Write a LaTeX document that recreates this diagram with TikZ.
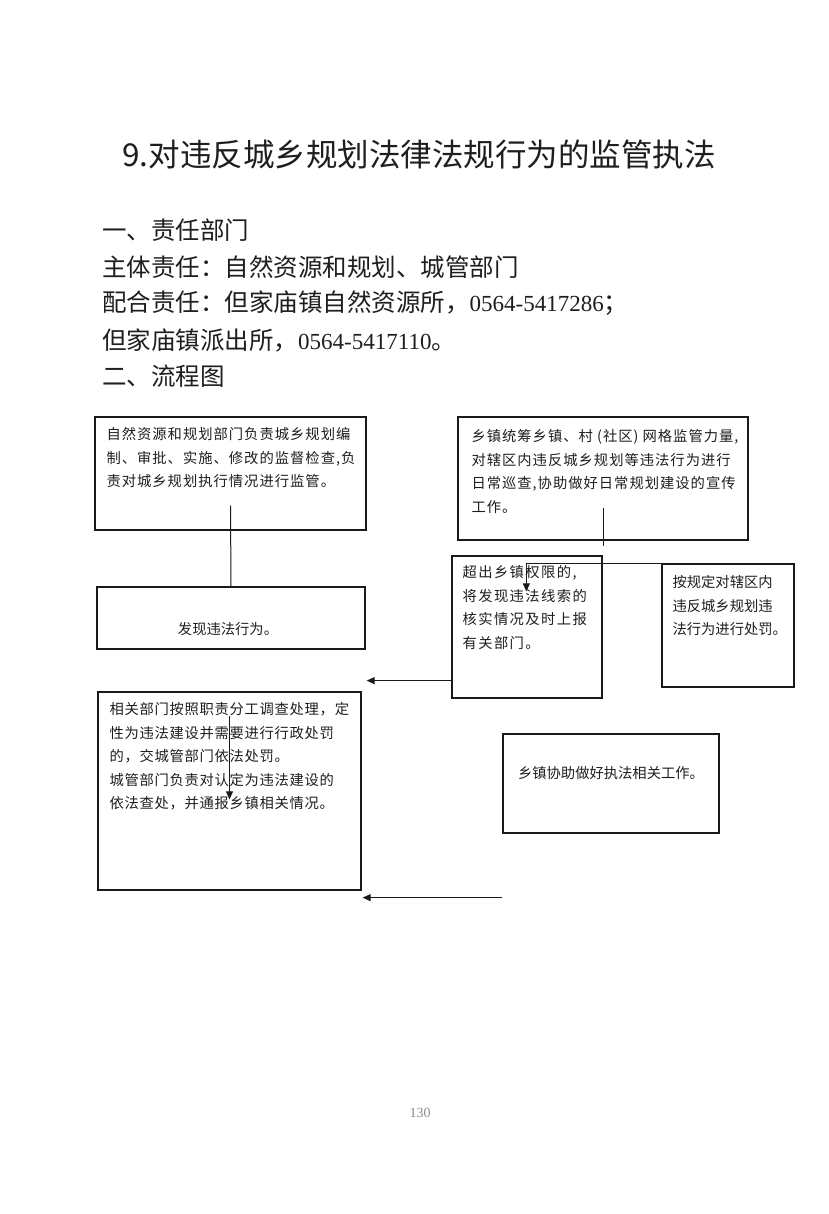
\documentclass[tikz,border=0pt]{standalone}
\usepackage{fontspec}
\setmainfont{Noto Sans CJK SC}
\newfontfamily\numfont{Liberation Serif}
\usetikzlibrary{arrows.meta,calc,fit}
\definecolor{docink}{HTML}{1E1E1E}
\definecolor{docline}{HTML}{1A1A1A}
\definecolor{docmuted}{HTML}{8C8C8C}
\tikzset{
  titletext/.style={font=\fontsize{31.5}{36}\selectfont, text=docink, inner sep=0pt},
  headtext/.style={font=\fontsize{24.5}{28}\selectfont, text=docink, anchor=west, inner sep=0pt},
  boxtext/.style={font=\fontsize{14.3}{23.5}\selectfont\addfontfeatures{LetterSpace=#1},
    text=docink, align=left, anchor=north west, inner sep=0pt},
  boxtext/.default=0,
  flowbox/.style={draw=docline, line width=1.3pt, inner sep=0pt},
  plainlink/.style={draw=docline, line width=1pt},
  flowarrow/.style={-{Triangle[length=8pt,width=7pt]}, draw=docline, line width=1pt}
}

\begin{document}
\begin{tikzpicture}[x=1pt,y=-1pt]
  % page area, measured in pixels from the top left corner
  \useasboundingbox[fill=white] (0,0) rectangle (828,1214);

  \node[titletext] (title) at (419,155) {9.对违反城乡规划法律法规行为的监管执法};
  \node[headtext] (head1) at (102,230) {一、责任部门};
  \node[headtext] (head2) at (102,267) {主体责任：自然资源和规划、城管部门};
  \node[headtext] (head3) at (102,303) {配合责任：但家庙镇自然资源所，{\numfont\fontsize{23}{28}\selectfont 0564-5417286}；};
  \node[headtext] (head4) at (102,340) {但家庙镇派出所，{\numfont\fontsize{23}{28}\selectfont 0564-5417110}。};
  \node[headtext] (head5) at (102,376) {二、流程图};

  % boxes of the flow chart
  \node[flowbox, fit={(95,417) (366,530)}] (abox) {};
  \node[flowbox, fit={(97,587) (365,649)}] (bbox) {};
  \node[flowbox, fit={(458,417) (748,540)}] (cbox) {};
  \node[flowbox, fit={(452,556) (602,698)}] (dbox) {};
  \node[flowbox, fit={(662,564) (794,687)}] (ebox) {};
  \node[flowbox, fit={(98,692) (361,890)}] (fbox) {};
  \node[flowbox, fit={(503,734) (719,833)}] (gbox) {};

  \node[boxtext=7] (atext) at ($(abox.north west)+(12,11)$)
    {自然资源和规划部门负责城乡规划编\\制、审批、实施、修改的监督检查,负\\责对城乡规划执行情况进行监管。};
  \node[boxtext, anchor=center] (btext) at ($(bbox.center)+(-3,11)$) {发现违法行为。};
  \node[boxtext=7] (ctext) at ($(cbox.north west)+(14,13)$)
    {乡镇统筹乡镇、村 (社区) 网格监管力量,\\对辖区内违反城乡规划等违法行为进行\\日常巡查,协助做好日常规划建设的宣传\\工作。};
  \node[boxtext=10] (dtext) at ($(dbox.north west)+(11,10)$)
    {超出乡镇权限的,\\将发现违法线索的\\核实情况及时上报\\有关部门。};
  \node[boxtext] (etext) at ($(ebox.north west)+(11,12)$)
    {按规定对辖区内\\违反城乡规划违\\法行为进行处罚。};
  \node[boxtext=5] (ftext) at ($(fbox.north west)+(12,11)$)
    {相关部门按照职责分工调查处理，定\\性为违法建设并需要进行行政处罚\\的，交城管部门依法处罚。\\城管部门负责对认定为违法建设的\\依法查处，并通报乡镇相关情况。};
  \node[boxtext, anchor=center] (gtext) at ($(gbox.center)+(0,-10)$) {乡镇协助做好执法相关工作。};

  % connectors
  \draw[plainlink] ($(abox.south)+(0,-25)$) -- (bbox.north);
  \draw[plainlink] ($(cbox.south)+(0,-33)$) -- ($(cbox.south)+(0,5)$);
  \draw[flowarrow] (ebox.north west) -| ($(dbox.north west)+(75,36)$);
  \draw[flowarrow] ($(dbox.south west)+(0,-18)$) -- ($(abox.east |- dbox.south)+(0,-18)$);
  \draw[flowarrow] ($(fbox.north)+(0,25)$) -- ($(fbox.north)+(0,108)$);
  \draw[flowarrow] ($(gbox.south west)+(0,64)$) -- ($(fbox.south east)+(1,7)$);

  \node[font=\numfont\fontsize{14}{16}\selectfont, text=docmuted] (pageno) at (420,1113) {130};
\end{tikzpicture}
\end{document}
